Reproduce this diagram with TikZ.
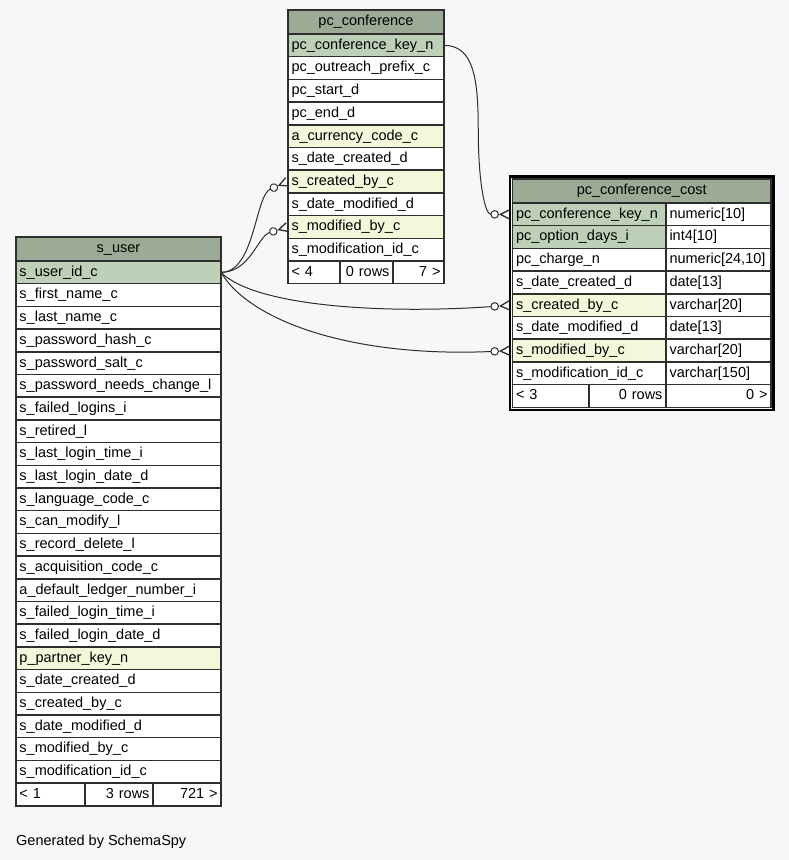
\documentclass[tikz,border=0pt]{standalone}
\usepackage{fontspec}
\setmainfont{Liberation Sans}
\usetikzlibrary{arrows.meta, calc, fit}
\definecolor{sshead}{HTML}{9BAB96}
\definecolor{sskey}{HTML}{BED1B8}
\definecolor{ssindex}{HTML}{F4F7DA}
\definecolor{ssback}{HTML}{F7F7F7}
\definecolor{ssline}{HTML}{2E2E2E}

\begin{document}
\begin{tikzpicture}[x=1pt, y=-1pt, font=\fontsize{14.5}{17}\selectfont,
    cell/.style={rectangle, draw=ssline, line width=1.5pt, fill=white, anchor=north west,
      minimum height=22.7pt, inner xsep=3.5pt, inner ysep=0pt, outer sep=0pt,
      text height=11pt, text depth=3.2pt, align=left},
    head/.style={cell, fill=sshead, align=center, minimum height=24pt},
    pk/.style={cell, fill=sskey},
    idx/.style={cell, fill=ssindex},
    num/.style={cell, align=right},
    fk/.style={draw=ssline, line width=1pt,
      -{Circle[open, fill=white, length=8.5pt, width=8.5pt] . Straight Barb[reversed, length=9pt, width=9pt, line width=1.3pt]}},
  ]
  \fill[ssback] (0,0) rectangle (789,860);

  % pc_conference
  \node[head, text width=149pt] (conf) at (288,10) {pc\_conference};
  \foreach \f/\s [count=\i] in {pc\_conference\_key\_n/pk, pc\_outreach\_prefix\_c/cell,
      pc\_start\_d/cell, pc\_end\_d/cell, a\_currency\_code\_c/idx, s\_date\_created\_d/cell,
      s\_created\_by\_c/idx, s\_date\_modified\_d/cell, s\_modified\_by\_c/idx,
      s\_modification\_id\_c/cell}
    \node[\s, text width=149pt] (conf-\i) at (288,{34+22.7*(\i-1)}) {\f};
  \node[cell, text width=45pt] (conf-foot-1) at (conf-10.south west) {< 4};
  \node[num, text width=46pt] (conf-foot-2) at (conf-foot-1.north east) {0 rows};
  \node[num, text width=44pt] (conf-foot-3) at (conf-foot-2.north east) {7 >};

  % pc_conference_cost
  \node[head, text width=251.5pt] (cost) at (512.5,179) {pc\_conference\_cost};
  \foreach \f/\t/\s [count=\i] in {pc\_conference\_key\_n/numeric[10]/pk,
      pc\_option\_days\_i/int4[10]/pk, pc\_charge\_n/{numeric[24,10]}/cell,
      s\_date\_created\_d/date[13]/cell, s\_created\_by\_c/varchar[20]/idx,
      s\_date\_modified\_d/date[13]/cell, s\_modified\_by\_c/varchar[20]/idx,
      s\_modification\_id\_c/varchar[150]/cell} {
    \node[\s, text width=146.5pt] (cost-\i) at (512.5,{203+22.7*(\i-1)}) {\f};
    \node[cell, text width=98pt] (cost-\i-type) at (cost-\i.north east) {\t};
  }
  \node[cell, text width=69.5pt] (cost-foot-1) at (cost-8.south west) {< 3};
  \node[num, text width=70pt] (cost-foot-2) at (cost-foot-1.north east) {0 rows};
  \node[num, text width=98pt] (cost-foot-3) at (cost-foot-2.north east) {0 >};
  \node[draw=black, line width=2.5pt, inner sep=2.5pt, fit=(cost) (cost-foot-3)] (cost-frame) {};

  % s_user
  \node[head, text width=198pt] (user) at (16,237) {s\_user};
  \foreach \f/\s [count=\i] in {s\_user\_id\_c/pk, s\_first\_name\_c/cell, s\_last\_name\_c/cell,
      s\_password\_hash\_c/cell, s\_password\_salt\_c/cell, s\_password\_needs\_change\_l/cell,
      s\_failed\_logins\_i/cell, s\_retired\_l/cell, s\_last\_login\_time\_i/cell,
      s\_last\_login\_date\_d/cell, s\_language\_code\_c/cell, s\_can\_modify\_l/cell,
      s\_record\_delete\_l/cell, s\_acquisition\_code\_c/cell, a\_default\_ledger\_number\_i/cell,
      s\_failed\_login\_time\_i/cell, s\_failed\_login\_date\_d/cell, p\_partner\_key\_n/idx,
      s\_date\_created\_d/cell, s\_created\_by\_c/cell, s\_date\_modified\_d/cell,
      s\_modified\_by\_c/cell, s\_modification\_id\_c/cell}
    \node[\s, text width=198pt] (user-\i) at (16,{261+22.7*(\i-1)}) {\f};
  \node[cell, text width=62pt] (user-foot-1) at (user-23.south west) {< 1};
  \node[num, text width=61pt] (user-foot-2) at (user-foot-1.north east) {3 rows};
  \node[num, text width=61pt] (user-foot-3) at (user-foot-2.north east) {721 >};

  \node[anchor=base west, inner sep=0pt] (gen) at (16,845) {Generated by SchemaSpy};

  % relationships
  \draw[fk] (user-1.east) .. controls +(34,0) and +(-33,14) .. (conf-7.west);
  \draw[fk] (user-1.east) .. controls +(29,0) and +(-30,9) .. (conf-9.west);
  \draw[fk, shorten >=2.5pt] (user-1.east) .. controls +(34,34) and +(-130,9) .. (cost-5.west);
  \draw[fk, shorten >=2.5pt] (user-1.east) .. controls +(29,49) and +(-160,7) .. (cost-7.west);
  \draw[fk, shorten >=2.5pt] (conf-1.east) .. controls +(30,0) and +(0,-50)
    .. ($(conf-1.east)!0.5!(cost-1.west)$) .. controls +(0,50) and +(-28,0) .. (cost-1.west);
\end{tikzpicture}
\end{document}
